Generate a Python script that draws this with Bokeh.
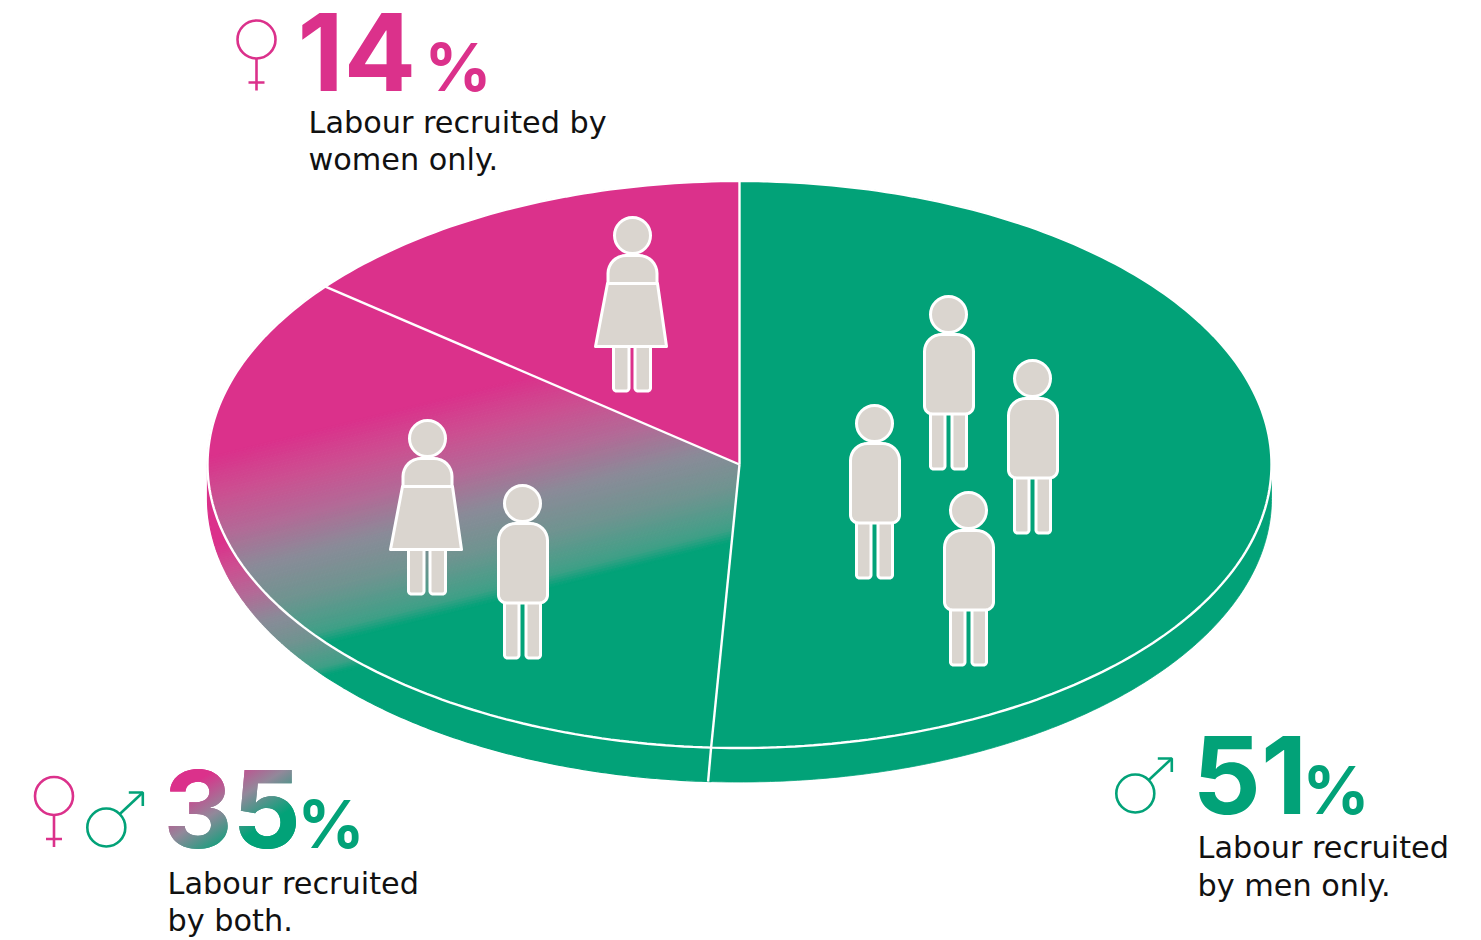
import math
from bokeh.plotting import figure
from bokeh.document import Document
from bokeh.models import Range1d, CustomJS
from bokeh.core.properties import value
from bokeh.embed import file_html
from bokeh.resources import INLINE

# ---- data ----
categories = ["Labour recruited by men only.", "Labour recruited by both.", "Labour recruited by women only."]
labels_pct = ["51", "35", "14"]
drawn_shares = [50.85, 34.95, 14.2]
men_icon_count = 4

PINK = "#DB318B"
GREEN = "#02A278"
SKIN = "#DAD5CF"
INK = "#111111"
WHITE = "#FFFFFF"
RAMP_T = [0.0, 0.18, 0.37, 0.56, 0.75, 0.94, 1.0]
RAMP_C = [(219, 49, 139), (204, 79, 145), (179, 106, 151), (138, 139, 152), (111, 148, 144), (63, 160, 135), (2, 162, 120)]

W, H = 1481, 940
p = figure(width=W, height=H, output_backend="svg", toolbar_location=None,
           x_range=Range1d(0, W), y_range=Range1d(H, 0),
           min_border=0, outline_line_color=None, background_fill_color=WHITE)
p.axis.visible = False
p.grid.visible = False

CX, CY, RX, RY, DEPTH = 739.0, 464.0, 532.0, 283.5, 34.0
SLOPE = 0.25


def pt(frac, dy=0.0):
    a = 2 * math.pi * frac
    return CX + RX * math.sin(a), CY - RY * math.cos(a) + dy


def arc(f0, f1, dy=0.0, n=160):
    return [pt(f0 + (f1 - f0) * i / n, dy) for i in range(n + 1)]


def clip(poly, val, keep_above):
    out = []
    def f(q):
        d = q[1] + SLOPE * (q[0] - CX) - val
        return d if keep_above else -d
    for i in range(len(poly)):
        a, b = poly[i], poly[(i + 1) % len(poly)]
        fa, fb = f(a), f(b)
        if fa >= 0:
            out.append(a)
        if (fa >= 0) != (fb >= 0):
            s = fa / (fa - fb)
            out.append((a[0] + s * (b[0] - a[0]), a[1] + s * (b[1] - a[1])))
    return out


def ramp(t):
    for k in range(len(RAMP_T) - 1):
        if t <= RAMP_T[k + 1]:
            u = (t - RAMP_T[k]) / (RAMP_T[k + 1] - RAMP_T[k])
            c = [RAMP_C[k][i] + (RAMP_C[k + 1][i] - RAMP_C[k][i]) * u for i in range(3)]
            return "#%02X%02X%02X" % tuple(int(round(v)) for v in c)
    return "#%02X%02X%02X" % RAMP_C[-1]


def gradient_fill(poly, g0, g1):
    xs, ys, cols = [], [], []
    n = 80
    for i in range(-1, n + 1):
        lo = g0 + (g1 - g0) * i / n
        hi = g0 + (g1 - g0) * (i + 1) / n
        piece = poly
        if i >= 0:
            piece = clip(piece, lo, True)
        if i < n and piece:
            piece = clip(piece, hi, False)
        if len(piece) >= 3:
            xs.append([q[0] for q in piece])
            ys.append([q[1] for q in piece])
            cols.append(ramp(min(1.0, max(0.0, (i + 0.5) / n))))
    p.patches(xs, ys, fill_color=cols, line_color=cols, line_width=1.2)


# slice boundaries
b0 = 0.0
b1 = drawn_shares[0] / 100
b2 = b1 + drawn_shares[1] / 100
b3 = 1.0

# side wall (men + both)
wall_right = arc(0.25, b1, DEPTH) + arc(b1, 0.25, 0)
p.patch([q[0] for q in wall_right], [q[1] for q in wall_right], fill_color=GREEN, line_color=GREEN, line_width=0.8)
wall_left = arc(b1, 0.75, DEPTH) + arc(0.75, b1, 0)
gradient_fill(wall_left, 412.0, 572.0)

# top surface
men = [(CX, CY)] + arc(b0, b1)
both = [(CX, CY)] + arc(b1, b2)
women = [(CX, CY)] + arc(b2, b3)
p.patch([q[0] for q in men], [q[1] for q in men], fill_color=GREEN, line_color=GREEN)
gradient_fill(both, 324.0, 540.0)
p.patch([q[0] for q in women], [q[1] for q in women], fill_color=PINK, line_color=PINK)

# white edges
rim = arc(0, 1, 0, 360)
p.line([q[0] for q in rim], [q[1] for q in rim], line_color=WHITE, line_width=2.4)
for f in (b0, b1, b2):
    q = pt(f)
    p.line([CX, q[0]], [CY, q[1]], line_color=WHITE, line_width=2.4)
q = pt(b1)
p.line([q[0], q[0] - 3], [q[1], q[1] + DEPTH], line_color=WHITE, line_width=2.4)


# ---- pictograms ----
def rrect(x0, x1, y0, y1, rt, rb):
    out = []
    corners = [(x0 + rt, y0 + rt, rt, 180), (x1 - rt, y0 + rt, rt, 270),
               (x1 - rb, y1 - rb, rb, 0), (x0 + rb, y1 - rb, rb, 90)]
    for cx, cy, r, start in corners:
        for i in range(9):
            a = math.radians(start + 90 * i / 8)
            out.append((cx + r * math.cos(a), cy + r * math.sin(a)))
    return out


def shape(poly):
    p.patch([q[0] for q in poly], [q[1] for q in poly], fill_color=SKIN, line_color=WHITE,
            line_width=3, line_join="round")


def head(hx, hy):
    p.circle([hx], [hy], radius=18, fill_color=SKIN, line_color=WHITE, line_width=3)


def man(hx, hy):
    shape(rrect(hx - 18, hx - 3.5, hy + 95, hy + 154.5, 3, 3))
    shape(rrect(hx + 3.5, hx + 18, hy + 95, hy + 154.5, 3, 3))
    shape(rrect(hx - 24, hx + 25, hy + 20, hy + 99.5, 17, 8))
    head(hx, hy)


def woman(hx, hy):
    shape(rrect(hx - 19, hx - 3.5, hy + 105, hy + 155.5, 3, 3))
    shape(rrect(hx + 2.5, hx + 18, hy + 105, hy + 155.5, 3, 3))
    shape([(hx - 25, hy + 48), (hx + 25, hy + 48), (hx + 34, hy + 111), (hx - 37, hy + 111)])
    shape(rrect(hx - 24.5, hx + 24.5, hy + 20, hy + 48, 18, 0.1))
    head(hx, hy)


men_heads = [(948, 314), (1032, 378), (874, 423), (968, 510)]
for h in men_heads[:men_icon_count]:
    man(*h)
woman(427, 438)
man(522, 503)
woman(632, 235)


# ---- gender signs ----
def female(cx, cy, col):
    p.circle([cx], [cy], radius=19, fill_color=None, line_color=col, line_width=2.6)
    p.line([cx, cx], [cy + 19, cy + 51], line_color=col, line_width=2.6)
    p.line([cx - 8, cx + 8], [cy + 43, cy + 43], line_color=col, line_width=2.6)


def male(cx, cy, col):
    p.circle([cx], [cy], radius=19, fill_color=None, line_color=col, line_width=2.6)
    p.line([cx + 13.5, cx + 36.5], [cy - 13.5, cy - 35], line_color=col, line_width=2.6)
    p.line([cx + 22.5, cx + 36.5, cx + 36.5], [cy - 35, cy - 35, cy - 21.5], line_color=col, line_width=2.6)


female(256, 39, PINK)
female(53.5, 795.5, PINK)
male(105.8, 827, GREEN)
male(1134.8, 793, GREEN)


# ---- texts ----
def txt(x, y, s, size, col, weight="normal", font="Inter"):
    p.text([x], [y - 0.36 * size], text=[s], text_font=value(font), text_font_size=f"{size}px",
           text_font_style=weight, text_color=col, text_align="left", text_baseline="alphabetic")


BIG = 107
PCT = 66
txt(297, 90, labels_pct[2], BIG, PINK, "bold")
txt(424, 90, "%", PCT, PINK, "bold")
txt(163, 847, labels_pct[1], BIG, "#7C8A90", "bold")
txt(297, 847, "%", PCT, GREEN, "bold")
txt(1192, 813, labels_pct[0], BIG, GREEN, "bold")
txt(1302, 813, "%", PCT, GREEN, "bold")


def caption(x, y, s):
    txt(x, y, s, 30.3, INK, "normal", "DejaVu Sans")


caption(308, 133, "Labour recruited by")
caption(308, 170, "women only.")
caption(167, 894, "Labour recruited")
caption(167, 931, "by both.")
caption(1197, 858, "Labour recruited")
caption(1197, 896, "by men only.")

doc = Document()
doc.add_root(p)
# the big "35" carries a diagonal pink-to-green fill in the original
doc.js_on_event("document_ready", CustomJS(code="""
function walk(root, out){
  root.querySelectorAll('*').forEach(el => {
    if (el.tagName && el.tagName.toLowerCase() === 'text') out.push(el);
    if (el.shadowRoot) walk(el.shadowRoot, out);
  });
  return out;
}
function apply(){
  const texts = walk(document, []);
  texts.forEach(el => {
    if (el.textContent !== '35') return;
    const svg = el.ownerSVGElement;
    const NS = 'http://www.w3.org/2000/svg';
    let g = svg.querySelector('#g35');
    if (!g) {
      g = document.createElementNS(NS, 'linearGradient');
      g.setAttribute('id', 'g35');
      g.setAttribute('x1', '0.24'); g.setAttribute('y1', '0.285');
      g.setAttribute('x2', '0.54'); g.setAttribute('y2', '0.75');
      [['0', '#DB318B'], ['0.5', '#92889A'], ['1', '#02A278']].forEach(s => {
        const st = document.createElementNS(NS, 'stop');
        st.setAttribute('offset', s[0]); st.setAttribute('stop-color', s[1]);
        g.appendChild(st);
      });
      svg.insertBefore(g, svg.firstChild);
    }
    el.setAttribute('fill', 'url(#g35)');
    el.style.fill = 'url(#g35)';
  });
}
[0, 50, 200, 600].forEach(t => setTimeout(apply, t));
"""))

open("out.html", "w").write(file_html(p, INLINE))
